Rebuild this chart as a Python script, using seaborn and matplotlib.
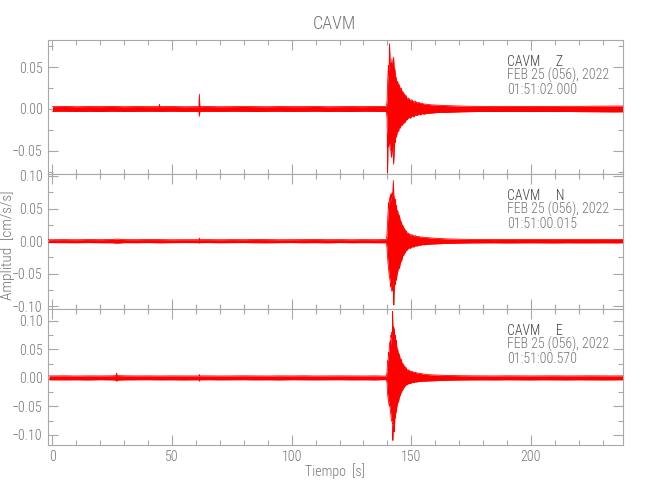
import matplotlib
matplotlib.use("Agg")
import matplotlib.pyplot as plt
import seaborn as sns
import pandas as pd
from matplotlib import font_manager
from matplotlib.ticker import MultipleLocator, FuncFormatter

# envelope of each trace (upper / lower amplitude, cm/s/s)
# quiet part before the event
pre_t_z = [0, 5, 10, 15, 20, 25, 30, 35, 40, 44.5, 44.7, 44.9, 50, 55, 61.2, 61.4, 61.6,
           65, 70, 75, 80, 85, 90, 95, 100, 105, 110, 115, 120, 125, 130, 135]
pre_up_z = [0.0028, 0.0030, 0.0027, 0.0029, 0.0028, 0.0030, 0.0027, 0.0029, 0.0028, 0.0028, 0.0056, 0.0028,
            0.0029, 0.0027, 0.0028, 0.0176, 0.0028,
            0.0029, 0.0027, 0.0028, 0.0030, 0.0028, 0.0027, 0.0029, 0.0028, 0.0028, 0.0030, 0.0027, 0.0028,
            0.0029, 0.0028, 0.0030]
pre_lo_z = [-0.0028, -0.0027, -0.0029, -0.0028, -0.0030, -0.0027, -0.0029, -0.0028, -0.0027, -0.0028, -0.0030, -0.0028,
            -0.0027, -0.0029, -0.0028, -0.0088, -0.0028,
            -0.0028, -0.0029, -0.0027, -0.0028, -0.0030, -0.0028, -0.0027, -0.0029, -0.0028, -0.0027, -0.0029, -0.0028,
            -0.0030, -0.0027, -0.0028]

pre_t_n = [-1.985, 5, 10, 15, 20, 25, 27, 30, 35, 40, 45, 50, 55, 61.2, 61.4, 61.6,
           65, 70, 75, 80, 85, 90, 95, 100, 105, 110, 115, 120, 125, 130, 135]
pre_up_n = [0.0022, 0.0024, 0.0022, 0.0025, 0.0023, 0.0026, 0.0032, 0.0024, 0.0023, 0.0025, 0.0024, 0.0022, 0.0023,
            0.0023, 0.0048, 0.0023,
            0.0024, 0.0022, 0.0024, 0.0023, 0.0025, 0.0024, 0.0022, 0.0023, 0.0024, 0.0025, 0.0023, 0.0024,
            0.0022, 0.0024, 0.0023]
pre_lo_n = [-0.0022, -0.0023, -0.0024, -0.0022, -0.0024, -0.0025, -0.0030, -0.0023, -0.0024, -0.0022, -0.0025,
            -0.0023, -0.0022, -0.0023, -0.0030, -0.0023,
            -0.0022, -0.0024, -0.0023, -0.0022, -0.0024, -0.0025, -0.0023, -0.0022, -0.0024, -0.0023, -0.0025,
            -0.0022, -0.0024, -0.0023, -0.0024]

pre_t_e = [-1.43, 5, 10, 15, 20, 25, 26.6, 26.8, 27.0, 30, 35, 40, 45, 50, 55, 61.2, 61.4, 61.6,
           65, 70, 75, 80, 85, 90, 95, 100, 105, 110, 115, 120, 125, 130, 135]
pre_up_e = [0.0034, 0.0036, 0.0033, 0.0035, 0.0034, 0.0036, 0.0040, 0.0084, 0.0040, 0.0036, 0.0034, 0.0035,
            0.0033, 0.0035, 0.0034, 0.0034, 0.0060, 0.0034,
            0.0035, 0.0033, 0.0034, 0.0036, 0.0034, 0.0033, 0.0035, 0.0034, 0.0036, 0.0033, 0.0034, 0.0035,
            0.0034, 0.0033, 0.0035]
pre_lo_e = [-0.0034, -0.0035, -0.0034, -0.0036, -0.0033, -0.0035, -0.0040, -0.0060, -0.0040, -0.0035, -0.0034,
            -0.0033, -0.0035, -0.0034, -0.0036, -0.0034, -0.0060, -0.0034,
            -0.0033, -0.0035, -0.0034, -0.0033, -0.0035, -0.0034, -0.0036, -0.0033, -0.0034, -0.0035, -0.0034,
            -0.0033, -0.0035, -0.0034, -0.0036]

# the arrival: (time s, upper, lower)
event_z = [(139.6, 0.0030, -0.0030), (139.9, 0.010, -0.012), (140.1, 0.030, -0.076), (140.3, 0.045, -0.030),
           (140.5, 0.052, -0.045), (140.7, 0.040, -0.038), (140.9, 0.078, -0.040), (141.2, 0.050, -0.048),
           (141.5, 0.055, -0.050), (141.7, 0.046, -0.058), (141.9, 0.060, -0.052), (142.2, 0.050, -0.045),
           (142.4, 0.040, -0.052), (142.6, 0.062, -0.066), (142.9, 0.045, -0.048), (143.1, 0.048, -0.036),
           (143.3, 0.042, -0.040), (143.5, 0.034, -0.032), (143.7, 0.038, -0.034), (144.0, 0.030, -0.030),
           (144.3, 0.033, -0.024), (144.7, 0.027, -0.027), (145.0, 0.029, -0.021), (145.4, 0.023, -0.023),
           (145.8, 0.025, -0.018), (146.1, 0.020, -0.020), (146.5, 0.021, -0.016), (146.8, 0.017, -0.018),
           (147.2, 0.018, -0.014), (147.5, 0.015, -0.016), (147.9, 0.016, -0.012), (148.2, 0.012, -0.013),
           (148.9, 0.013, -0.010), (149.6, 0.010, -0.011), (150.3, 0.011, -0.008), (151.0, 0.008, -0.0095),
           (151.7, 0.0095, -0.007), (152.4, 0.0072, -0.0078), (153.1, 0.0080, -0.0062), (153.8, 0.0065, -0.0070),
           (154.5, 0.0070, -0.0055), (155.2, 0.0058, -0.0062), (156.6, 0.0056, -0.0052), (158.0, 0.0050, -0.0050)]
event_n = [(139.6, 0.0025, -0.0025), (139.8, 0.008, -0.008), (140.1, 0.030, -0.025), (140.3, 0.045, -0.035),
           (140.5, 0.059, -0.042), (140.7, 0.050, -0.050), (140.9, 0.065, -0.055), (141.2, 0.069, -0.062),
           (141.4, 0.060, -0.070), (141.5, 0.072, -0.065), (141.7, 0.066, -0.074), (141.9, 0.074, -0.077),
           (142.2, 0.070, -0.072), (142.5, 0.093, -0.060), (142.7, 0.070, -0.098), (142.9, 0.066, -0.070),
           (143.1, 0.058, -0.062), (143.3, 0.064, -0.067), (143.5, 0.052, -0.058), (143.7, 0.055, -0.060),
           (144.0, 0.045, -0.052), (144.3, 0.047, -0.047), (144.7, 0.038, -0.040), (145.0, 0.040, -0.042),
           (145.4, 0.031, -0.034), (145.8, 0.030, -0.030), (146.1, 0.025, -0.028), (146.5, 0.024, -0.022),
           (146.8, 0.020, -0.022), (147.2, 0.019, -0.017), (147.5, 0.016, -0.018), (147.9, 0.016, -0.013),
           (148.2, 0.0125, -0.014), (148.9, 0.012, -0.010), (149.6, 0.0095, -0.011), (150.3, 0.010, -0.0085),
           (151.0, 0.0080, -0.0090), (151.7, 0.0085, -0.0070), (152.4, 0.0068, -0.0075), (153.1, 0.0072, -0.0060),
           (153.8, 0.0062, -0.0064), (154.5, 0.0065, -0.0052), (155.2, 0.0056, -0.0055), (156.6, 0.0055, -0.0050),
           (158.0, 0.0050, -0.0045)]
event_e = [(139.6, 0.003, -0.003), (139.9, 0.012, -0.010), (140.1, 0.030, -0.029), (140.3, 0.028, -0.035),
           (140.5, 0.045, -0.040), (140.7, 0.040, -0.048), (140.9, 0.060, -0.047), (141.2, 0.065, -0.055),
           (141.4, 0.058, -0.062), (141.5, 0.075, -0.065), (141.7, 0.070, -0.075), (141.9, 0.080, -0.075),
           (142.1, 0.075, -0.080), (142.2, 0.117, -0.080), (142.3, 0.085, -0.110), (142.5, 0.078, -0.085),
           (142.6, 0.090, -0.090), (142.9, 0.084, -0.095), (143.1, 0.070, -0.072), (143.3, 0.075, -0.070),
           (143.5, 0.060, -0.062), (143.7, 0.066, -0.059), (144.0, 0.052, -0.050), (144.3, 0.050, -0.044),
           (144.7, 0.040, -0.041), (145.0, 0.042, -0.034), (145.4, 0.032, -0.030), (145.8, 0.033, -0.025),
           (146.1, 0.026, -0.023), (146.5, 0.025, -0.020), (146.8, 0.021, -0.018), (147.2, 0.021, -0.015),
           (147.5, 0.017, -0.014), (147.9, 0.018, -0.012), (148.2, 0.014, -0.012), (148.9, 0.014, -0.010),
           (149.6, 0.0115, -0.010), (150.3, 0.0115, -0.008), (151.0, 0.0095, -0.0085), (151.7, 0.0098, -0.0070),
           (152.4, 0.0082, -0.0072), (153.1, 0.0085, -0.0062), (153.8, 0.0075, -0.0065), (154.5, 0.0072, -0.0058),
           (155.2, 0.0065, -0.0060), (156.6, 0.0058, -0.0055), (158.0, 0.0054, -0.0054)]

# coda and quiet tail after the event
post_t = [161, 165, 170, 175, 180, 185, 190, 195, 200, 205, 210, 215, 220, 225, 230, 235, 238.5]
post_up_z = [0.0045, 0.0040, 0.0035, 0.0032, 0.0030, 0.0029, 0.0031, 0.0030, 0.0029, 0.0031, 0.0030, 0.0032,
             0.0031, 0.0033, 0.0034, 0.0035, 0.0035]
post_lo_z = [-0.0042, -0.0040, -0.0035, -0.0032, -0.0029, -0.0030, -0.0030, -0.0029, -0.0031, -0.0030, -0.0031,
             -0.0030, -0.0032, -0.0033, -0.0034, -0.0035, -0.0034]
post_up_n = [0.0042, 0.0035, 0.0030, 0.0027, 0.0026, 0.0025, 0.0026, 0.0025, 0.0027, 0.0026, 0.0025, 0.0026,
             0.0027, 0.0026, 0.0025, 0.0026, 0.0026]
post_lo_n = [-0.0040, -0.0034, -0.0030, -0.0027, -0.0026, -0.0025, -0.0027, -0.0026, -0.0025, -0.0026, -0.0027,
             -0.0025, -0.0026, -0.0026, -0.0025, -0.0026, -0.0025]
post_up_e = [0.0048, 0.0042, 0.0038, 0.0036, 0.0035, 0.0034, 0.0036, 0.0035, 0.0034, 0.0035, 0.0036, 0.0034,
             0.0035, 0.0036, 0.0035, 0.0034, 0.0035]
post_lo_e = [-0.0048, -0.0042, -0.0038, -0.0036, -0.0035, -0.0036, -0.0034, -0.0035, -0.0036, -0.0034, -0.0035,
             -0.0036, -0.0034, -0.0035, -0.0036, -0.0035, -0.0034]

components = ["Z", "N", "E"]
start_times = ["01:51:02.000", "01:51:00.015", "01:51:00.570"]
date_label = "FEB 25 (056), 2022"
ylims = [(-0.0777, 0.0824), (-0.104, 0.103), (-0.118, 0.121)]

sns.set_theme(style="white")
avail = {f.name for f in font_manager.fontManager.ttflist}
fam = "Liberation Sans"
for cand in ["Liberation Sans Narrow", "Roboto Condensed", "Noto Sans Condensed",
             "Open Sans Condensed", "Noto Sans Display Condensed"]:
    if cand in avail:
        fam = cand
        break
narrow = fam != "Liberation Sans"
plt.rcParams["font.family"] = [fam, "DejaVu Sans"]
plt.rcParams["font.weight"] = "light"
fs = 10 if narrow else 8.5

gray = "#747474"
axis_gray = "#a8a8a8"

fig = plt.figure(figsize=(6.5, 5), dpi=100)
boxes = [[0.0734, 0.652, 0.885, 0.268],
         [0.0734, 0.382, 0.885, 0.270],
         [0.0734, 0.110, 0.885, 0.272]]
pieces = [(pre_t_z, pre_up_z, pre_lo_z, event_z, post_up_z, post_lo_z),
          (pre_t_n, pre_up_n, pre_lo_n, event_n, post_up_n, post_lo_n),
          (pre_t_e, pre_up_e, pre_lo_e, event_e, post_up_e, post_lo_e)]


def fmt(v, _):
    return f"{v:.2f}".replace("-", "\u2212")


for i, (box, (pt, pu, pl, ev, qu, ql)) in enumerate(zip(boxes, pieces)):
    ev_df = pd.DataFrame(ev, columns=["t", "up", "lo"])
    df = pd.concat([pd.DataFrame({"t": pt, "up": pu, "lo": pl}), ev_df,
                    pd.DataFrame({"t": post_t, "up": qu, "lo": ql})], ignore_index=True)

    ax = fig.add_axes(box)
    ax.fill_between(df["t"], df["lo"], df["up"], color="#ff0000", lw=0, zorder=2)
    sns.lineplot(data=df, x="t", y="up", ax=ax, color="#ff0000", lw=0.6, zorder=3)
    sns.lineplot(data=df, x="t", y="lo", ax=ax, color="#ff0000", lw=0.6, zorder=3)

    ax.set_xlim(-2.0, 238.5)
    ax.set_ylim(*ylims[i])
    ax.set_xlabel("")
    ax.set_ylabel("")
    ax.xaxis.set_major_locator(MultipleLocator(50))
    ax.xaxis.set_minor_locator(MultipleLocator(10))
    ax.yaxis.set_major_locator(MultipleLocator(0.05))
    ax.yaxis.set_minor_locator(MultipleLocator(0.025))
    ax.yaxis.set_major_formatter(FuncFormatter(fmt))
    ax.tick_params(which="both", direction="in", top=True, right=True, bottom=True, left=True,
                   color=axis_gray, width=0.8, labelcolor=gray, labelsize=fs)
    ax.tick_params(which="major", length=7.2, pad=3.5)
    ax.tick_params(which="minor", length=3.6)
    if i < 2:
        ax.tick_params(labelbottom=False)
    for sp in ax.spines.values():
        sp.set_color(axis_gray)
        sp.set_linewidth(0.8)

    lines = [(f"CAVM     {components[i]}", "#404040", -15.6),
             (date_label, gray, -25.7),
             (start_times[i], gray, -36.0)]
    for txt, col, dy in lines:
        ax.annotate(txt, xy=(0.798, 1), xycoords="axes fraction", xytext=(0, dy),
                    textcoords="offset points", va="center", ha="left", fontsize=fs, color=col)

fig.text(0.515, 0.952, "CAVM", ha="center", va="center", fontsize=fs * 1.3, color=gray)
fig.text(0.515, 0.057, "Tiempo  [s]", ha="center", va="center", fontsize=fs, color=gray)
fig.text(0.011, 0.51, "Amplitud  [cm/s/s]", ha="center", va="center", rotation=90,
         fontsize=fs * 1.1, color=gray)

fig.savefig("out.png", dpi=100, facecolor="white")
